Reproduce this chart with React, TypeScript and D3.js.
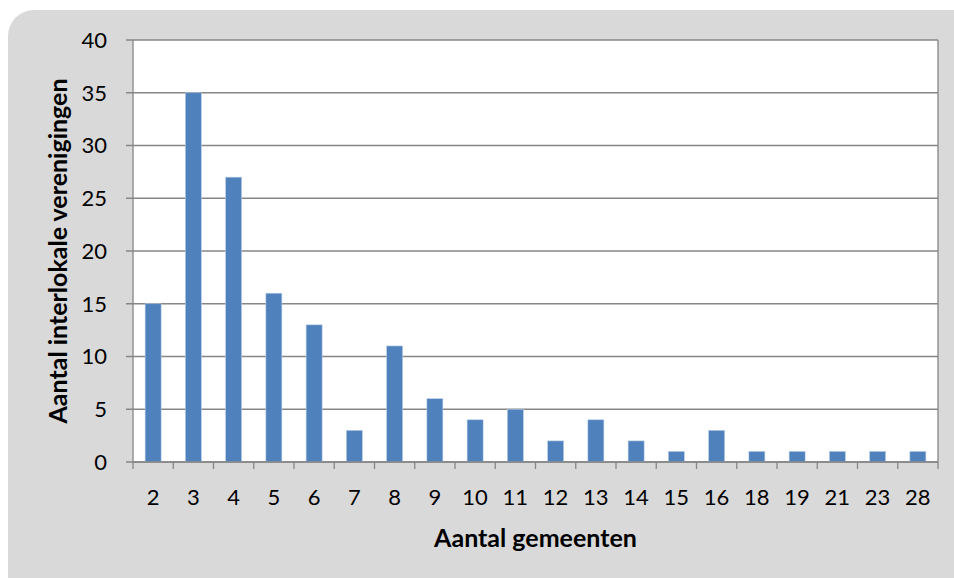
import React from "react";
import * as d3 from "d3";

const catLabels = ["2","3","4","5","6","7","8","9","10","11","12","13","14","15","16","18","19","21","23","28"];
const values = [15, 35, 27, 16, 13, 3, 11, 6, 4, 5, 2, 4, 2, 1, 3, 1, 1, 1, 1, 1];
const yTicks = [0, 5, 10, 15, 20, 25, 30, 35, 40];
const xTitle = "Aantal gemeenten";
const yTitle = "Aantal interlokale verenigingen";

export default function App() {
  const W = 954, H = 578;
  const left = 133, right = 938, top = 40, bottom = 462;
  const x = d3.scaleBand<string>().domain(catLabels).range([left, right]);
  const y = d3.scaleLinear().domain([0, 40]).range([bottom, top]);
  const barW = 16;
  const font = "Lato, 'Open Sans', sans-serif";
  const grid = "#868686";
  return (
    <svg width={W} height={H} style={{ position: "absolute", left: 0, top: 0 }}>
      <rect x={8} y={10} width={W + 30} height={H - 10 + 30} rx={26} ry={26} fill="#D9D9D9" />
      <rect x={left} y={top} width={right - left} height={bottom - top} fill="#FFFFFF" />
      {yTicks.map((t) => (
        <g key={t}>
          <line x1={left - 7} x2={right} y1={y(t)} y2={y(t)} stroke={grid} strokeWidth={1.3} />
          <text x={107} y={y(t)} dy="0.36em" textAnchor="end" fontFamily={font} fontSize={22} fill="#000">{t}</text>
        </g>
      ))}
      <line x1={left} x2={left} y1={top} y2={bottom} stroke={grid} strokeWidth={1.3} />
      <line x1={right} x2={right} y1={top} y2={bottom} stroke={grid} strokeWidth={1.3} />
      {values.map((v, i) => {
        const c = catLabels[i];
        const cx = (x(c) as number) + x.bandwidth() / 2;
        return (
          <rect key={c} x={cx - barW / 2} y={y(v)} width={barW} height={y(0) - y(v)} fill="#4F81BD" stroke="#B9CDE5" strokeWidth={0.6} />
        );
      })}
      <line x1={left} x2={right} y1={bottom} y2={bottom} stroke={grid} strokeWidth={1.5} />
      {catLabels.map((c) => (
        <line key={"t" + c} x1={x(c) as number} x2={x(c) as number} y1={bottom} y2={bottom + 7} stroke={grid} strokeWidth={1.3} />
      ))}
      <line x1={right} x2={right} y1={bottom} y2={bottom + 7} stroke={grid} strokeWidth={1.3} />
      {catLabels.map((c) => (
        <text key={"l" + c} x={(x(c) as number) + x.bandwidth() / 2} y={505} textAnchor="middle" fontFamily={font} fontSize={22} fill="#000">{c}</text>
      ))}
      <text x={(left + right) / 2} y={547} textAnchor="middle" fontFamily={font} fontSize={25} fontWeight="bold" fill="#000">{xTitle}</text>
      <text transform={`translate(67, ${(top + bottom) / 2}) rotate(-90)`} textAnchor="middle" fontFamily={font} fontSize={25} fontWeight="bold" fill="#000">{yTitle}</text>
    </svg>
  );
}
